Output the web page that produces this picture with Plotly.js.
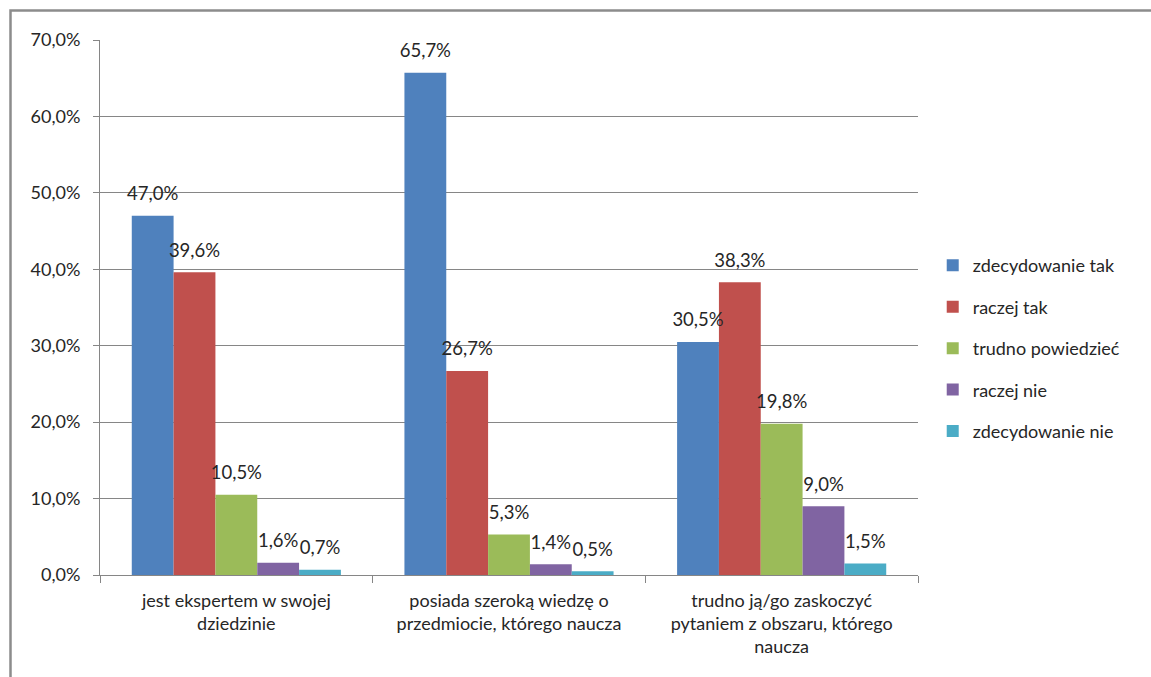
<!DOCTYPE html>
<html>
<head>
<meta charset="utf-8">
<script src="https://cdn.plot.ly/plotly-3.0.1.min.js"></script>
<style>html,body{margin:0;padding:0;background:#fff;}#chart{width:1151px;height:677px;}</style>
</head>
<body>
<div id="chart"></div>
<script>
const categories = [
  "jest ekspertem w swojej<br>dziedzinie",
  "posiada szeroką wiedzę o<br>przedmiocie, którego naucza",
  "trudno ją/go zaskoczyć<br>pytaniem z obszaru, którego<br>naucza"
];
const seriesNames = ["zdecydowanie tak", "raczej tak", "trudno powiedzieć", "raczej nie", "zdecydowanie nie"];
const zdecydowanieTak = [47.0, 65.7, 30.5];
const raczejTak = [39.6, 26.7, 38.3];
const trudnoPowiedziec = [10.5, 5.3, 19.8];
const raczejNie = [1.6, 1.4, 9.0];
const zdecydowanieNie = [0.7, 0.5, 1.5];
const yTicks = [0, 10, 20, 30, 40, 50, 60, 70];

const seriesValues = [zdecydowanieTak, raczejTak, trudnoPowiedziec, raczejNie, zdecydowanieNie];
const colors = ["#4F81BD", "#C0504D", "#9BBB59", "#8064A2", "#4BACC6"];
const fontFam = "Lato, 'Open Sans', sans-serif";
const textColor = "#262626";
const fmt = v => v.toFixed(1).replace(".", ",") + "%";

const barTraces = seriesValues.map((vals, i) => ({
  type: "bar",
  name: seriesNames[i],
  x: categories,
  y: vals,
  legendgroup: "g" + i,
  marker: {color: colors[i], line: {width: 0}},
  hoverinfo: "none"
}));

const labelTraces = seriesValues.map((vals, i) => ({
  type: "scatter",
  mode: "markers+text",
  x: categories,
  y: vals,
  text: vals.map(fmt),
  textposition: "top center",
  textfont: {family: fontFam, size: 18.5, color: textColor},
  marker: {size: 16, opacity: 0},
  showlegend: false,
  legendgroup: "g" + i,
  cliponaxis: false,
  hoverinfo: "none"
}));

const layout = {
  width: 1151,
  height: 677,
  margin: {l: 100, r: 233, t: 40, b: 102},
  paper_bgcolor: "#ffffff",
  plot_bgcolor: "#ffffff",
  barmode: "group",
  bargap: 0.233,
  bargroupgap: 0,
  scattermode: "group",
  scattergap: 0.233,
  showlegend: true,
  font: {family: fontFam, size: 18, color: textColor},
  xaxis: {
    type: "category",
    showgrid: false,
    showline: true,
    linecolor: "#868686",
    linewidth: 1,
    ticks: "outside",
    tickson: "boundaries",
    ticklen: 7,
    tickcolor: "#868686",
    ticklabelstandoff: 9,
    tickfont: {family: fontFam, size: 18, color: textColor},
    fixedrange: true
  },
  yaxis: {
    range: [0, 70],
    tickvals: yTicks,
    ticktext: yTicks.map(fmt),
    showgrid: true,
    gridcolor: "#868686",
    gridwidth: 1,
    showline: true,
    linecolor: "#868686",
    linewidth: 1,
    ticks: "outside",
    ticklen: 6,
    tickcolor: "#868686",
    ticklabelstandoff: 9,
    tickfont: {family: fontFam, size: 18, color: textColor},
    zeroline: false,
    fixedrange: true
  },
  legend: {
    x: 1.018,
    xanchor: "left",
    y: 0.424,
    yanchor: "middle",
    font: {family: fontFam, size: 18, color: textColor},
    tracegroupgap: 15,
    itemwidth: 30,
    bgcolor: "rgba(0,0,0,0)"
  },
  shapes: [{
    type: "rect",
    xref: "paper", yref: "paper",
    x0: (10.5 - 100) / 818, x1: (1170 - 100) / 818,
    y0: (575 - 700) / 535, y1: (575 - 10.5) / 535,
    line: {color: "#8c8c8c", width: 2.5},
    fillcolor: "rgba(0,0,0,0)",
    layer: "below"
  }]
};

Plotly.newPlot("chart", barTraces.concat(labelTraces), layout, {displayModeBar: false, staticPlot: true});
</script>
</body>
</html>
